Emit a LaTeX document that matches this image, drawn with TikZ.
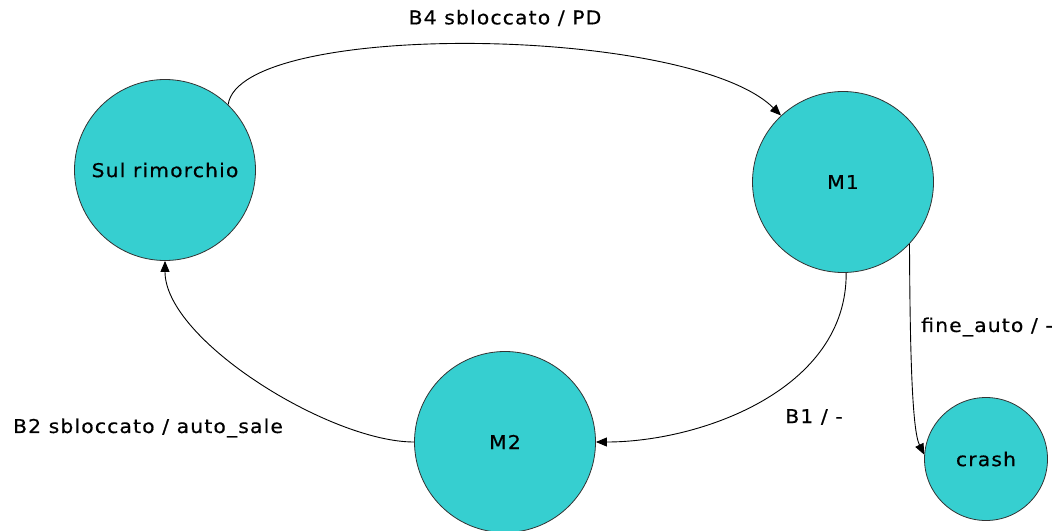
\documentclass[tikz,border=0pt]{standalone}
\usepackage{fontspec}
\setmainfont{DejaVu Sans}[FakeStretch=1.07,LetterSpace=6,FakeBold=0.5]
\usetikzlibrary{arrows.meta}
\definecolor{stfill}{HTML}{36CFD0}
\definecolor{stline}{HTML}{333333}
\tikzset{
  state/.style={circle,draw=stline,line width=0.8pt,fill=stfill,inner sep=0pt,minimum size=181pt,font=\fontsize{19}{21}\selectfont},
  small/.style={state,minimum size=123pt},
  lbl/.style={font=\fontsize{19}{21}\selectfont,inner sep=0pt},
  tr/.style={draw=black,line width=0.9pt,-{Triangle[length=11pt,width=9pt]}}
}
\begin{document}
\begin{tikzpicture}[x=1pt,y=-1pt]
\useasboundingbox (0,0) rectangle (1064,530);
\node[state] (sul) at (165,170) {Sul rimorchio};
\node[state] (m1) at (843,182) {M1};
\node[state] (m2) at (505,442) {M2};
\node[small] (crash) at (986,459) {crash};
\node[lbl] (l1) at (505,18) {B4 sbloccato / PD};
\node[lbl] (l2) at (148,428) {B2 sbloccato / auto\_sale};
\node[lbl] (l3) at (814,417) {B1 / -};
\node[lbl] (l4) at (987,327) {fine\_auto / -};
\draw[tr] (sul.46) .. controls (240,20) and (690,25) .. (m1.133);
\draw[tr] (m1.-88) .. controls (847,390) and (700,442) .. (m2.0);
\draw[tr] (m1.-43) .. controls (910,350) and (912,430) .. (crash.176);
\draw[tr] (m2.180) .. controls (330,442) and (165,340) .. (sul.-90);
\end{tikzpicture}
\end{document}
